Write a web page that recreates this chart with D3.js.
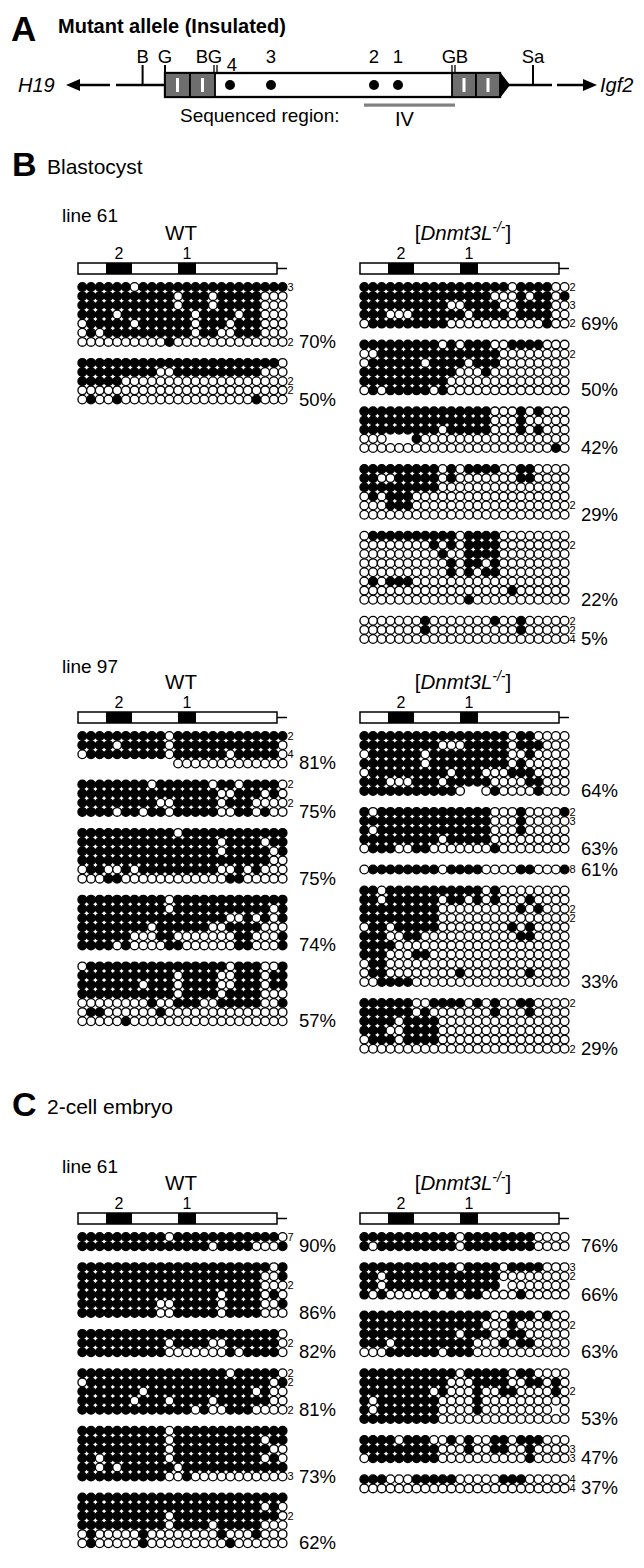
<!DOCTYPE html>
<html><head><meta charset="utf-8">
<script src="https://cdn.jsdelivr.net/npm/d3@7"></script>
<style>body{margin:0;background:#fff}svg{display:block}</style>
</head><body><svg id="fig" width="644" height="1568"></svg>
<script>
// ---------------- DATA ----------------
// Panel A map (map units)
const mapSites = [
  {label:"B", pos:142.6, tick:"tall", lx:142.6},
  {label:"G", pos:165, tick:"short", lx:165},
  {label:"B", pos:null, tick:"none", lx:202},
  {label:"G", pos:215.5, tick:"double", lx:215},
  {label:"G", pos:null, tick:"none", lx:449},
  {label:"B", pos:453.5, tick:"double", lx:462},
  {label:"Sa", pos:533, tick:"tall", lx:533}
];
const ctcfSites = [{label:"4", pos:230},{label:"3", pos:271},{label:"2", pos:374},{label:"1", pos:398}];
const insulators = [[165,190],[190,215],[452,476],[476,500]];
const seqRegion = [364, 455];

// CpG columns per read
const nCpG = 24;

// Blastocyst line 61
const b61WT = [
  {pct:"70%", n:["3","","","","","","2"], rows:[
    "111111011111111111111111",
    "111111111110111011111000",
    "111111111110111011111000",
    "111101111111101111011000",
    "011111011111101110111000",
    "010111111111101100111000",
    "000000000010000000000000"]},
  {pct:"50%", n:["","","2","2",""], rows:[
    "111111111111111111111110",
    "111111111001111111111000",
    "111110000000000000000000",
    "000000000000000000000000",
    "010010000000000000001000"]}
];
const b61KO = [
  {pct:"69%", n:["2","","3","","2"], rows:[
    "111111111111111110111100",
    "111111111111111000101101",
    "111111111100111100111100",
    "111000111111011110111100",
    "011111111100000000000100"]},
  {pct:"50%", n:["","2","","","",""], rows:[
    "111111111010111001111000",
    "001111111111111100000000",
    "011111101111011100000000",
    "111111111110001000000000",
    "111111111100000000000000",
    "010111110100000000000000"]},
  {pct:"42%", n:["","","","",""], rows:[
    "111111111111111000101000",
    "111111111111111000100000",
    "111111111011111000101000",
    "000---100000000000000000",
    "000000000000000000000010"]},
  {pct:"29%", n:["","","","","2",""], rows:[
    "111111111010111100110000",
    "110011111010000000110000",
    "111111111000000000000000",
    "010111000000000000000000",
    "000111000000000000000000",
    "000000000000000000000000"]},
  {pct:"22%", n:["","2","","","","","",""], rows:[
    "011111111110111100000000",
    "000000001010111100000000",
    "000000000100111100000000",
    "000000000010110100000000",
    "000000000010101100000000",
    "010111000000000000000000",
    "000000000000000001000000",
    "000000000000100000000000"]},
  {pct:"5%", n:["2","2","4"], rows:[
    "000000010000000100100000",
    "000000010000000000100000",
    "000000000000000000000000"]}
];

// Blastocyst line 97
const b97WT = [
  {pct:"81%", n:["2","","4",""], rows:[
    "111111111101111111111111",
    "111101111101111111111110",
    "011111111101111110111110",
    "-----------0000000000000"]},
  {pct:"75%", n:["2","","2",""], rows:[
    "111111110111111011011110",
    "111111111111111100111010",
    "111111111001111101110000",
    "111101101101111100110100"]},
  {pct:"75%", n:["","","","","",""], rows:[
    "111111111110111111111111",
    "111111111111111101111011",
    "111111111111111101111101",
    "111111111111111111111100",
    "011001011111111100101000",
    "000110000000000001100000"]},
  {pct:"74%", n:["","","","","",""], rows:[
    "111111111101111111111111",
    "111111111101111111111101",
    "111111111111111110010101",
    "111111110111111001111000",
    "111111000110000000110001",
    "111101000011000000110001"]},
  {pct:"57%", n:["","","","","","",""], rows:[
    "011111111111111110111001",
    "111111111110111100111011",
    "111111101110111100111011",
    "111111111110111101111000",
    "000000001001110011111001",
    "011000000100000000000000",
    "000001000000000000000000"]}
];
const b97KO = [
  {pct:"64%", n:["","","","","","",""], rows:[
    "111111111111111110110000",
    "111111111000111110111000",
    "011111101111111110010000",
    "111111101111111110100000",
    "011111111101110001110000",
    "111000111011111000011000",
    "111111111110--0100001000"]},
  {pct:"63%", n:["2","3","","",""], rows:[
    "101111111111111000100001",
    "111111111111111000100000",
    "101111111111111000100000",
    "111111111011111000000000",
    "011100110000000100000000"]},
  {pct:"61%", n:["8"], rows:[
    "011111111011110000110001"]},
  {pct:"33%", n:["","","2","2","","","","","","",""], rows:[
    "110111111111110100000000",
    "110111111011010100010000",
    "111111111000000000101000",
    "111111111000000000000000",
    "011011111000000001010000",
    "111001100000000000110000",
    "111100000000000000000000",
    "111000110000000000000000",
    "011000000000000000000000",
    "011000000001000000010000",
    "001111000000000000000000"]},
  {pct:"29%", n:["2","","","","","2"], rows:[
    "111111001111010100110000",
    "111111010000000100010000",
    "111101111000000000000000",
    "111001111000000000000000",
    "011101111000000000000000",
    "000000000000000000000000"]}
];

// 2-cell embryo line 61
const c61WT = [
  {pct:"90%", n:["7",""], rows:[
    "111111111101111111111110",
    "111111111111111011110001"]},
  {pct:"86%", n:["","","2","","",""], rows:[
    "111111111111111111111101",
    "111111111111111111111001",
    "111111111111111111111000",
    "111111111111111101111010",
    "111111111001111101111001",
    "111111111001111101111000"]},
  {pct:"82%", n:["","2",""], rows:[
    "111111111111111111111110",
    "111111111101111001111110",
    "111111111100000001011110"]},
  {pct:"81%", n:["2","2","","","2"], rows:[
    "111111111111111110111110",
    "011111111111111111111101",
    "111111101111111111110100",
    "111111011101111011111100",
    "111111111111101001110000"]},
  {pct:"73%", n:["","","","","","3"], rows:[
    "111111111101111111111111",
    "111111111101111111111011",
    "111111111101111111111100",
    "110111111101111111111010",
    "110101111110111111111111",
    "111111111100100000000000"]},
  {pct:"62%", n:["","","2","","",""], rows:[
    "111111111111111111111111",
    "111111111111111111111010",
    "111111111101111111111110",
    "111111111101111011111000",
    "010000010000000010001000",
    "010000010000000001000000"]}
];
const c61KO = [
  {pct:"76%", n:["",""], rows:[
    "111111111110111111110000",
    "101111111110111111110000"]},
  {pct:"66%", n:["3","2","",""], rows:[
    "111111111110111101111000",
    "110111111111111100000000",
    "1101111111111111-0000000",
    "101000001010110000100000"]},
  {pct:"63%", n:["","2","","",""], rows:[
    "111111111111111001110100",
    "111111111111110001000000",
    "111111111110111001100000",
    "111011111111100010110000",
    "000111111011100000000000"]},
  {pct:"53%", n:["","","2","","",""], rows:[
    "111111111110111110110000",
    "111111111100011110011010",
    "111111110100010011000010",
    "101111111000010000000000",
    "1011111110000100000000-0",
    "111111111000000000000000"]},
  {pct:"47%", n:["","3","3"], rows:[
    "111101110010100110111000",
    "111111111000100110010000",
    "011111111000000000010000"]},
  {pct:"37%", n:["4","4"], rows:[
    "111000111110000011100000",
    "000000000000000000000000"]}
];

// ---------------- DRAW ----------------
const FONT = "'Liberation Sans', Arial, Helvetica, sans-serif";
const svg = d3.select("#fig").style("font-family", FONT);
svg.append("rect").attr("width",644).attr("height",1568).attr("fill","#fff");

// ---- Panel A ----
const mapX = d3.scaleLinear().domain([0, 644]).range([0, 644]);
const A = svg.append("g");
A.append("text").attr("x",11).attr("y",41).attr("font-size",35).attr("font-weight","bold").text("A");
A.append("text").attr("x",58).attr("y",33).attr("font-size",20).attr("font-weight","bold").text("Mutant allele (Insulated)");
const my = 85, bh = 12;
A.append("text").attr("x",mapX(18)).attr("y",my+7).attr("font-size",20).attr("font-style","italic").text("H19");
A.append("line").attr("x1",mapX(110)).attr("x2",mapX(74)).attr("y1",my).attr("y2",my).attr("stroke","#000").attr("stroke-width",2.5);
A.append("path").attr("d",`M${mapX(66)},${my} L${mapX(80)},${my-6} L${mapX(80)},${my+6} Z`).attr("fill","#000");
A.append("line").attr("x1",mapX(557)).attr("x2",mapX(588)).attr("y1",my).attr("y2",my).attr("stroke","#000").attr("stroke-width",2.5);
A.append("path").attr("d",`M${mapX(597)},${my} L${mapX(583)},${my-6} L${mapX(583)},${my+6} Z`).attr("fill","#000");
A.append("text").attr("x",mapX(600)).attr("y",my+7).attr("font-size",20).attr("font-style","italic").text("Igf2");
A.append("line").attr("x1",mapX(116)).attr("x2",mapX(165)).attr("y1",my).attr("y2",my).attr("stroke","#000").attr("stroke-width",2.5);
A.append("line").attr("x1",mapX(505)).attr("x2",mapX(552)).attr("y1",my).attr("y2",my).attr("stroke","#000").attr("stroke-width",2.5);
A.append("rect").attr("x",mapX(165)).attr("y",my-bh).attr("width",mapX(500)-mapX(165)).attr("height",2*bh)
  .attr("fill","#fff").attr("stroke","#000").attr("stroke-width",2.3);
A.selectAll(".ins").data(insulators).join("rect")
  .attr("x",d=>mapX(d[0])).attr("y",my-bh).attr("width",d=>mapX(d[1])-mapX(d[0])).attr("height",2*bh)
  .attr("fill","#6e6e6e").attr("stroke","#000").attr("stroke-width",1.8);
A.selectAll(".insbar").data(insulators).join("rect")
  .attr("x",d=>mapX((d[0]+d[1])/2)-1.5).attr("y",my-7).attr("width",3).attr("height",14).attr("fill","#fff");
A.append("path").attr("d",`M${mapX(500)},${my-bh-1} L${mapX(510)},${my} L${mapX(500)},${my+bh+1} Z`).attr("fill","#000");
mapSites.forEach(s=>{
  A.append("text").attr("x",mapX(s.lx)).attr("y",63).attr("font-size",18.5).attr("text-anchor","middle").text(s.label);
  if(s.tick==="tall") A.append("line").attr("x1",mapX(s.pos)).attr("x2",mapX(s.pos)).attr("y1",65).attr("y2",my).attr("stroke","#000").attr("stroke-width",2);
  if(s.tick==="short") A.append("line").attr("x1",mapX(s.pos)).attr("x2",mapX(s.pos)).attr("y1",65).attr("y2",my-bh).attr("stroke","#000").attr("stroke-width",2);
  if(s.tick==="double") [-1.5,1.5].forEach(o=>A.append("line").attr("x1",mapX(s.pos)+o).attr("x2",mapX(s.pos)+o).attr("y1",65).attr("y2",my-bh).attr("stroke","#000").attr("stroke-width",1.3));
});
ctcfSites.forEach(s=>{
  A.append("circle").attr("cx",mapX(s.pos)).attr("cy",my).attr("r",5).attr("fill","#000");
  A.append("text").attr("x",mapX(s.pos)+(s.label==="4"?2:0)).attr("y",s.label==="4"?71:63).attr("font-size",18.5).attr("text-anchor","middle").text(s.label);
});
A.append("rect").attr("x",mapX(seqRegion[0])).attr("y",103.5).attr("width",mapX(seqRegion[1])-mapX(seqRegion[0])).attr("height",3.2).attr("fill","#808080");
A.append("text").attr("x",180).attr("y",122).attr("font-size",19).text("Sequenced region:");
A.append("text").attr("x",mapX((seqRegion[0]+seqRegion[1])/2)-5).attr("y",126).attr("font-size",20).attr("text-anchor","middle").text("IV");

// ---- headings ----
function heading(letter, title, y){
  svg.append("text").attr("x",12).attr("y",y).attr("font-size",34).attr("font-weight","bold").text(letter);
  svg.append("text").attr("x",47).attr("y",y-2).attr("font-size",21).text(title);
}
heading("B","Blastocyst",176);
heading("C","2-cell embryo",1116);
function lineLabel(t, y){ svg.append("text").attr("x",62).attr("y",y).attr("font-size",19).text(t); }
lineLabel("line 61", 222);
lineLabel("line 97", 673);
lineLabel("line 61", 1173);

// ---- methylation columns ----
const ROW = 9.15, GAP = 21 - 9.15;
const BARW = 199;
function column(groups, left, top, ko){
  const g = svg.append("g");
  const lab = g.append("text").attr("x",left+103).attr("y",top-23).attr("font-size",20.5).attr("text-anchor","middle");
  if(!ko){ lab.text("WT"); }
  else {
    lab.append("tspan").text("[");
    lab.append("tspan").attr("font-style","italic").text("Dnmt3L");
    lab.append("tspan").attr("font-style","italic").attr("font-size",14).attr("dy",-8).text("-/-");
    lab.append("tspan").attr("dy",8).text("]");
  }
  g.append("rect").attr("x",left).attr("y",top).attr("width",BARW).attr("height",11).attr("fill","#fff").attr("stroke","#000").attr("stroke-width",1.5);
  g.append("rect").attr("x",left+28).attr("y",top).attr("width",26).attr("height",11).attr("fill","#000");
  g.append("rect").attr("x",left+100).attr("y",top).attr("width",18).attr("height",11).attr("fill","#000");
  g.append("line").attr("x1",left+BARW).attr("x2",left+BARW+10).attr("y1",top+5.5).attr("y2",top+5.5).attr("stroke","#000").attr("stroke-width",1.5);
  g.append("text").attr("x",left+41).attr("y",top-4).attr("font-size",16).attr("text-anchor","middle").text("2");
  g.append("text").attr("x",left+109).attr("y",top-4).attr("font-size",16).attr("text-anchor","middle").text("1");

  const x = d3.scaleLinear().domain([0,nCpG-1]).range([left+4.3, left+204.6]);
  let pos = 0; const placed = [];
  groups.forEach((grp,gi)=>{
    if(gi>0) pos += GAP/ROW;
    grp.rows.forEach((r,ri)=>{ placed.push({grp:gi,row:ri,str:r,n:grp.n[ri]||"",p:pos}); pos += 1; });
    pos -= 1; grp._last = pos; pos += 1;
  });
  const y = d3.scaleLinear().domain([0,1]).range([top+24, top+24+ROW]);
  const cells = [];
  placed.forEach(r=>{ r.str.split("").forEach((c,ci)=>{ if(c!=="-") cells.push({p:r.p, ci, m:c==="1"}); }); });
  g.selectAll("circle.cpg").data(cells).join("circle").attr("class","cpg")
    .attr("cx",d=>x(d.ci)).attr("cy",d=>y(d.p)).attr("r",4.35)
    .attr("fill",d=>d.m?"#000":"#fff").attr("stroke","#000").attr("stroke-width",1.3);
  g.selectAll("text.cnt").data(placed.filter(d=>d.n)).join("text").attr("class","cnt")
    .attr("x",left+209.5).attr("y",d=>y(d.p)+3.8).attr("font-size",11).text(d=>d.n);
  g.selectAll("text.pct").data(groups).join("text").attr("class","pct")
    .attr("x",left+221).attr("y",d=>y(d._last)+6).attr("font-size",18.5).text(d=>d.pct);
}
column(b61WT, 78, 263, false);
column(b61KO, 360, 263, true);
column(b97WT, 78, 712, false);
column(b97KO, 360, 712, true);
column(c61WT, 78, 1213, false);
column(c61KO, 360, 1213, true);
</script>
</body></html>
